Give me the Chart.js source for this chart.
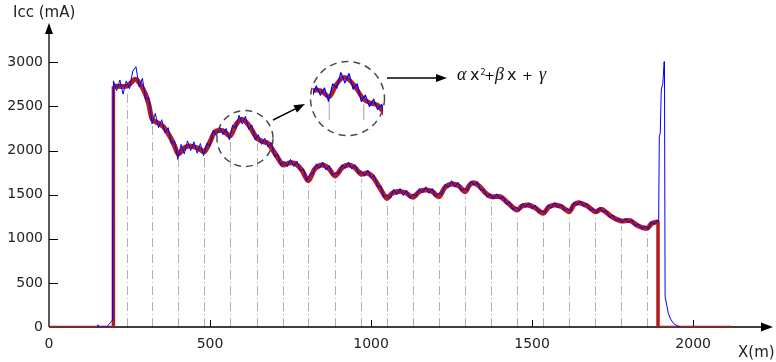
<!DOCTYPE html>
<html lang="en">
<head>
<meta charset="UTF-8" />
<title>Icc vs X</title>
<style>
  body { margin: 0; background: #fff; }
  .wrap { position: relative; width: 776px; height: 362px; }
  #mainChart { position: absolute; left: 0; top: 0; }
  #zoomChart { position: absolute; left: 313px; top: 60px; }
</style>
</head>
<body>
<div class="wrap">
  <canvas id="mainChart" width="776" height="362"></canvas>
  <canvas id="zoomChart" width="70" height="62"></canvas>
</div>
<script src="https://cdn.jsdelivr.net/npm/chart.js"></script>
<script>
// ticks
const xTicks = [0, 500, 1000, 1500, 2000];
const yTicks = [0, 500, 1000, 1500, 2000, 2500, 3000];

// fitted (red) curve, piecewise quadratic
const redX = [200,242,255,267,280,298,310,321,340,355,376,390,402,420,438,464,482,500,516,540,
  562,580,598,620,646,665,680,705,727,745,765,785,805,825,847,868,888,910,930,950,
  969,987,1000,1012,1030,1049,1065,1085,1108,1130,1150,1170,1190,1211,1230,1251,1272,1292,1305,1318,
  1335,1355,1373,1401,1426,1453,1468,1484,1508,1534,1552,1571,1592,1615,1630,1644,1670,1696,1716,1747,
  1776,1804,1830,1857,1872,1891];
const redY = [2730,2730,2770,2808,2770,2653,2520,2350,2310,2270,2157,2050,1960,2030,2052,2025,1987,2100,2214,2225,
  2165,2290,2354,2290,2139,2100,2082,1950,1836,1860,1850,1780,1658,1790,1836,1800,1712,1805,1836,1805,
  1731,1745,1720,1667,1560,1458,1515,1535,1520,1470,1535,1553,1535,1477,1585,1621,1600,1534,1605,1636,
  1600,1520,1477,1477,1402,1326,1368,1383,1355,1289,1360,1383,1362,1307,1385,1409,1375,1307,1334,1250,
  1202,1205,1145,1119,1175,1194];

// red steps at start / end
const leadX = [0, 200], leadY = [0, 0];
const upX = [200, 200], upY = [0, 2730];
const downX = [1891, 1891], downY = [1194, 0];
const tailX = [1891, 2118], tailY = [0, 0];

// measured (blue) current
const blueX = [150,152,154,180,186,192,196,198,
  200,210,220,230,240,250,260,270,280,290,300,310,320,330,340,350,360,370,380,390,
  400,410,420,430,440,450,460,470,480,490,500,510,520,530,540,550,560,570,580,590,
  600,610,620,630,640,650,660,670,680,690,700,710,720,730,740,750,760,770,780,790,
  800,810,820,830,840,850,860,870,880,890,900,910,920,930,940,950,960,970,980,990,
  1000,1010,1020,1030,1040,1050,1060,1070,1080,1090,1100,1110,1120,1130,1140,1150,1160,1170,1180,1190,
  1200,1210,1220,1230,1240,1250,1260,1270,1280,1290,1300,1310,1320,1330,1340,1350,1360,1370,1380,1390,
  1400,1410,1420,1430,1440,1450,1460,1470,1480,1490,1500,1510,1520,1530,1540,1550,1560,1570,1580,1590,
  1600,1610,1620,1630,1640,1650,1660,1670,1680,1690,1700,1710,1720,1730,1740,1750,1760,1770,1780,1790,
  1800,1810,1820,1830,1840,1850,1860,1870,1880,1890,
  1893,1895,1898,1901,1906,1910,1911,1913,1918,1923,1930,1939,1950,1960];
const blueY = [0,25,0,0,30,55,75,1100,
  2790,2680,2800,2640,2790,2700,2900,2950,2720,2820,2580,2600,2300,2420,2260,2350,2200,2260,2080,2110,
  1900,2070,1960,2110,2000,2100,1970,2080,1940,2080,2050,2230,2170,2270,2180,2250,2120,2290,2250,2400,
  2300,2390,2240,2290,2120,2180,2070,2140,2040,2090,1930,1960,1830,1880,1820,1900,1820,1880,1770,1790,
  1660,1730,1740,1850,1800,1870,1780,1830,1720,1750,1740,1840,1800,1870,1790,1840,1740,1770,1710,1780,
  1690,1720,1590,1600,1470,1500,1460,1560,1500,1570,1490,1550,1460,1510,1480,1570,1520,1590,1515,1570,
  1480,1520,1510,1620,1580,1660,1585,1640,1545,1570,1550,1655,1605,1650,1550,1560,1470,1510,1450,1510,
  1450,1480,1390,1420,1330,1360,1320,1400,1355,1410,1340,1380,1300,1320,1295,1385,1350,1410,1350,1390,
  1320,1345,1315,1410,1380,1430,1365,1400,1325,1340,1295,1355,1300,1320,1240,1270,1205,1230,1185,1228,
  1185,1215,1145,1170,1115,1145,1110,1190,1165,1210,
  1200,2157,2200,2687,2762,3007,2960,343,250,155,90,42,15,0];

// segment boundaries (dash-dot verticals)
const cutX = [242,321,402,482,562,646,727,805,888,969,1049,1130,1211,1292,1373,1453,1534,1615,1696,1776,1857];
const cutY = [2730,2350,1960,1987,2165,2139,1836,1658,1712,1731,1458,1470,1477,1534,1477,1326,1289,1307,1307,1202,1119];

const RED = '#b51c1c';
const BLUE = '#0000ff';
const pts = (xs, ys) => xs.map((v, i) => ({ x: v, y: ys[i] }));

function head(ctx, tx, ty, ang, len, half) {
  ctx.beginPath();
  ctx.moveTo(tx, ty);
  ctx.lineTo(tx - len * Math.cos(ang) + half * Math.sin(ang), ty - len * Math.sin(ang) - half * Math.cos(ang));
  ctx.lineTo(tx - len * Math.cos(ang) - half * Math.sin(ang), ty - len * Math.sin(ang) + half * Math.cos(ang));
  ctx.closePath();
  ctx.fill();
}

function arrow(ctx, x1, y1, x2, y2) {
  const ang = Math.atan2(y2 - y1, x2 - x1);
  ctx.beginPath();
  ctx.moveTo(x1, y1);
  ctx.lineTo(x2 - 8 * Math.cos(ang), y2 - 8 * Math.sin(ang));
  ctx.stroke();
  head(ctx, x2, y2, ang, 11, 4);
}

const decor = {
  id: 'decor',
  beforeDatasetsDraw(chart) {
    const { ctx, scales: { x, y } } = chart;
    const x0 = x.getPixelForValue(0), y0 = y.getPixelForValue(0);
    ctx.save();
    ctx.strokeStyle = '#b0b0b0';
    ctx.lineWidth = 1;
    ctx.setLineDash([9, 3, 1, 3]);
    cutX.forEach((v, i) => {
      const px = Math.round(x.getPixelForValue(v)) + 0.5;
      ctx.beginPath();
      ctx.moveTo(px, y0);
      ctx.lineTo(px, y.getPixelForValue(cutY[i]) + 5);
      ctx.stroke();
    });
    ctx.setLineDash([]);

    // axes
    ctx.strokeStyle = '#000';
    ctx.fillStyle = '#000';
    ctx.lineWidth = 1.3;
    ctx.beginPath();
    ctx.moveTo(x0, y0); ctx.lineTo(x.right - 6, y0);
    ctx.moveTo(x0, y0); ctx.lineTo(x0, y.top + 6);
    ctx.stroke();
    head(ctx, x.right, y0, 0, 12, 4.5);
    head(ctx, x0, y.top, -Math.PI / 2, 11, 4);

    ctx.lineWidth = 1;
    ctx.beginPath();
    yTicks.forEach(v => {
      if (v === 0) return;
      const py = Math.round(y.getPixelForValue(v)) + 0.5;
      ctx.moveTo(x0, py); ctx.lineTo(x0 + 9, py);
    });
    xTicks.forEach(v => {
      if (v === 0) return;
      const px = Math.round(x.getPixelForValue(v)) + 0.5;
      ctx.moveTo(px, y0); ctx.lineTo(px, y0 - 7);
    });
    ctx.stroke();

    ctx.fillStyle = '#222';
    ctx.font = '14px "DejaVu Sans"';
    ctx.textAlign = 'right';
    ctx.textBaseline = 'middle';
    yTicks.forEach(v => ctx.fillText(String(v), 43, y.getPixelForValue(v)));
    ctx.textAlign = 'center';
    ctx.textBaseline = 'top';
    xTicks.forEach(v => ctx.fillText(String(v), x.getPixelForValue(v), 337));

    ctx.font = '15px "DejaVu Sans"';
    ctx.textAlign = 'left';
    ctx.textBaseline = 'alphabetic';
    ctx.fillText('Icc (mA)', 13, 17);
    ctx.fillText('X(m)', 738, 357);
    ctx.restore();
  },
  afterDatasetsDraw(chart) {
    const { ctx } = chart;
    ctx.save();
    ctx.strokeStyle = '#4a4a52';
    ctx.lineWidth = 1.5;
    ctx.setLineDash([7, 5]);
    ctx.beginPath(); ctx.arc(245, 138.5, 28, 0, Math.PI * 2); ctx.stroke();
    ctx.beginPath(); ctx.arc(347.5, 98.5, 37, 0, Math.PI * 2); ctx.stroke();
    ctx.setLineDash([]);

    ctx.strokeStyle = '#000';
    ctx.fillStyle = '#000';
    ctx.lineWidth = 1.4;
    arrow(ctx, 273, 120, 305, 104);
    arrow(ctx, 387, 78, 447, 78);

    // formula
    const serif = 'italic 18px "Liberation Serif"';
    const sans = '16px "DejaVu Sans"';
    const plus = '13px "DejaVu Sans"';
    const parts = [
      ['\u03b1', serif, 457, 80], ['x', sans, 470, 80], ['2', '8px "DejaVu Sans"', 480.5, 75],
      ['+', plus, 484, 80], ['\u03b2', serif, 495, 80], ['x', sans, 507, 80],
      ['+', plus, 522, 80], ['\u03b3', serif, 539, 80]
    ];
    ctx.fillStyle = '#111';
    ctx.textAlign = 'left';
    parts.forEach(([t, f, px, py]) => { ctx.font = f; ctx.fillText(t, px, py); });
    ctx.restore();
  }
};

new Chart(document.getElementById('mainChart'), {
  type: 'line',
  data: {
    datasets: [
      { data: pts(blueX, blueY), borderColor: BLUE, borderWidth: 1 },
      { data: pts(leadX, leadY), borderColor: RED, borderWidth: 2.5 },
      { data: pts(tailX, tailY), borderColor: RED, borderWidth: 2.5 },
      { data: pts(upX, upY), borderColor: RED, borderWidth: 3.5 },
      { data: pts(downX, downY), borderColor: RED, borderWidth: 3.5 },
      { data: pts(redX, redY), borderColor: RED, borderWidth: 5, tension: 0.3 }
    ]
  },
  options: {
    responsive: false,
    animation: false,
    devicePixelRatio: 1,
    layout: { padding: { left: 49, right: 3, top: 23, bottom: 35 } },
    elements: { point: { radius: 0 }, line: { borderJoinStyle: 'round', fill: false } },
    scales: {
      x: { type: 'linear', min: 0, max: 2248, display: false },
      y: { min: 0, max: 3446, display: false }
    },
    plugins: { legend: { display: false }, tooltip: { enabled: false } }
  },
  plugins: [decor]
});

// magnified view inside the big circle
const zoomCuts = {
  id: 'zoomCuts',
  beforeDatasetsDraw(chart) {
    const { ctx, scales: { x, y }, chartArea } = chart;
    ctx.save();
    ctx.strokeStyle = '#c0c0c0';
    ctx.lineWidth = 1.5;
    cutX.forEach((v, i) => {
      if (v < x.min || v > x.max) return;
      const px = x.getPixelForValue(v);
      ctx.beginPath();
      ctx.moveTo(px, y.getPixelForValue(cutY[i]) + 5);
      ctx.lineTo(px, chartArea.bottom - 2);
      ctx.stroke();
    });
    ctx.restore();
  }
};

new Chart(document.getElementById('zoomChart'), {
  type: 'line',
  data: {
    datasets: [
      { data: pts(blueX, blueY), borderColor: BLUE, borderWidth: 1.3 },
      { data: pts(redX, redY), borderColor: RED, borderWidth: 4.5, tension: 0.3 }
    ]
  },
  options: {
    responsive: false,
    animation: false,
    devicePixelRatio: 1,
    layout: { padding: 0 },
    elements: { point: { radius: 0 }, line: { borderJoinStyle: 'round', fill: false } },
    scales: {
      x: { type: 'linear', min: 522, max: 693, display: false },
      y: { min: 1918, max: 2523, display: false }
    },
    plugins: { legend: { display: false }, tooltip: { enabled: false } }
  },
  plugins: [zoomCuts]
});
</script>
</body>
</html>
